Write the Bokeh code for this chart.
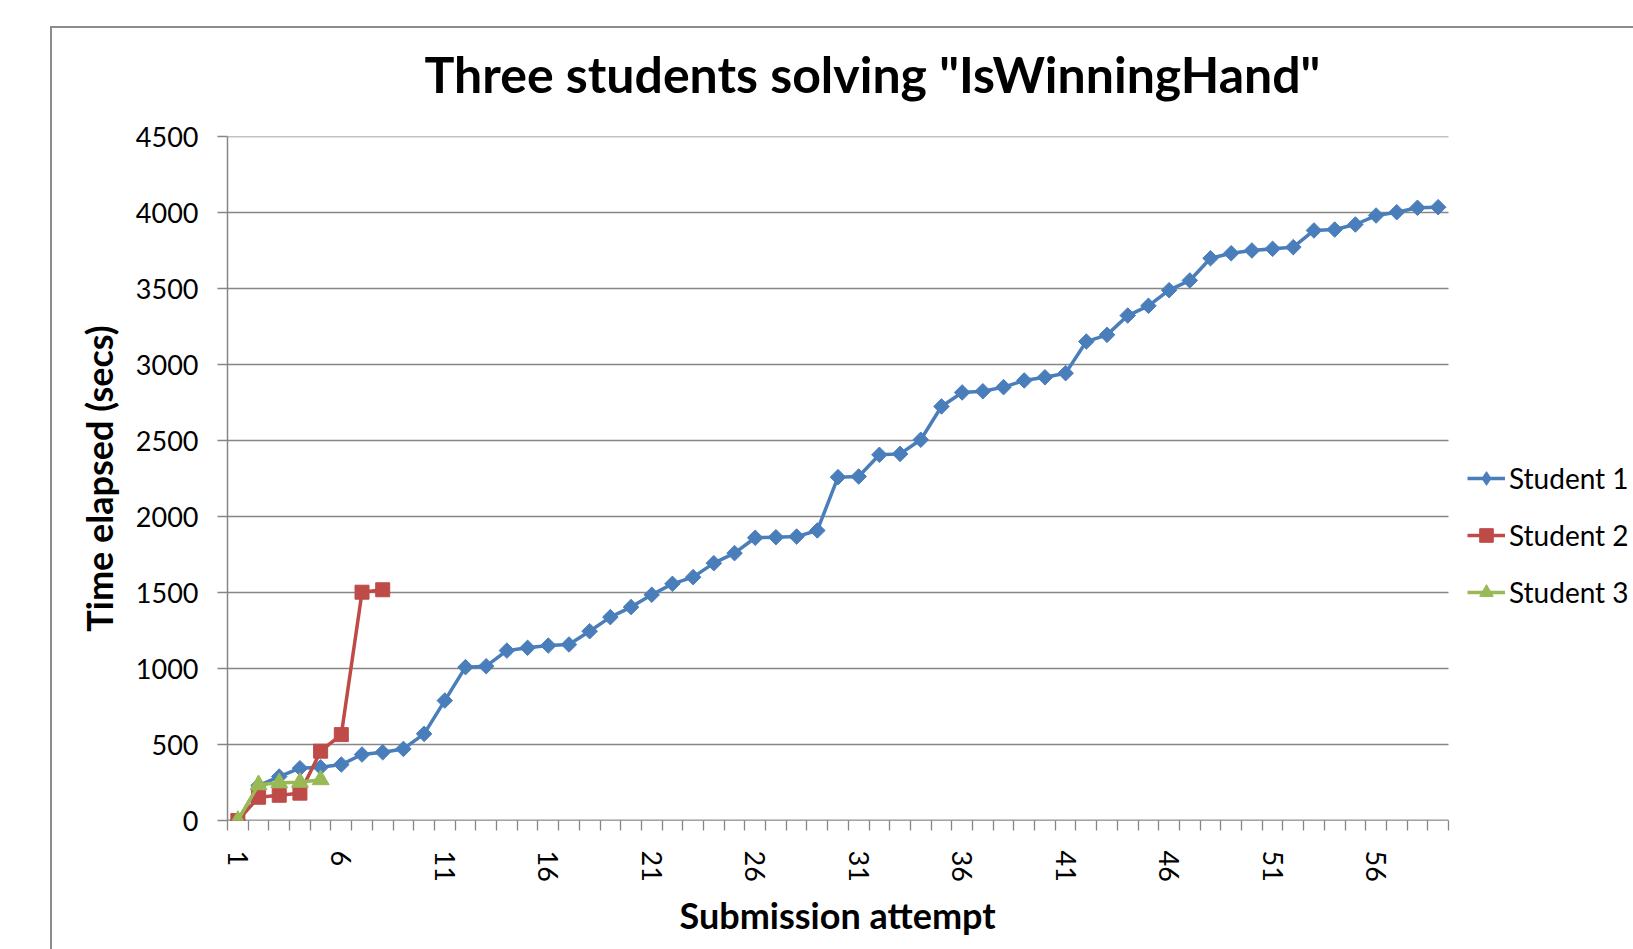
import numpy as np
from bokeh.plotting import figure
from bokeh.models import (Range1d, FixedTicker, Legend, LegendItem, Title,
                          ColumnDataSource)
from bokeh.embed import file_html
from bokeh.resources import INLINE

# ---------------- data ----------------
title_text = 'Three students solving "IsWinningHand"'
x_label = "Submission attempt"
y_label = "Time elapsed (secs)"
series_names = ["Student 1", "Student 2", "Student 3"]

student1 = [0, 230, 289, 344, 350, 368, 434, 449, 471, 570,
            789, 1009, 1015, 1118, 1136, 1151, 1158, 1245, 1338, 1404,
            1485, 1557, 1601, 1693, 1759, 1860, 1864, 1868, 1908, 2259,
            2263, 2406, 2412, 2505, 2724, 2816, 2824, 2851, 2895, 2916,
            2943, 3151, 3195, 3322, 3386, 3489, 3553, 3699, 3732, 3750,
            3761, 3772, 3882, 3888, 3921, 3980, 4002, 4031, 4035]
student2 = [0, 153, 166, 180, 456, 565, 1502, 1518]
student3 = [0, 235, 248, 251, 268]

n_attempts = 59
x_tick_labels = [1, 6, 11, 16, 21, 26, 31, 36, 41, 46, 51, 56]
y_ticks = [0, 500, 1000, 1500, 2000, 2500, 3000, 3500, 4000, 4500]

colors = ["#4A7EBB", "#BE4B48", "#98B954"]
FONT = "Lato"
GRID = "#868686"
BORDER = "#8c8c8c"

# ---------------- layout constants ----------------
W, H = 1633, 949
LEFT, TOP, BOTTOM = 227, 136, 129
PLOT_W = 1221                     # pixel width of the category area
frame_w = W - LEFT
x_lo = 0.5
x_hi_cat = n_attempts + 0.5
x_hi = x_lo + (x_hi_cat - x_lo) * frame_w / PLOT_W   # frame extends into legend area

p = figure(width=W, height=H, output_backend="svg", toolbar_location=None,
           x_range=Range1d(x_lo, x_hi), y_range=Range1d(0, 4500),
           min_border_left=LEFT, min_border_right=0,
           min_border_top=TOP, min_border_bottom=BOTTOM)
p.outline_line_color = None
p.background_fill_color = "white"
p.border_fill_alpha = 0
# outer chart-area border (left and top edges; right/bottom lie beyond the page)
p.styles = {
    "background": (f"linear-gradient({BORDER},{BORDER}) 50px 26px / 2px 1000px no-repeat, "
                   f"linear-gradient({BORDER},{BORDER}) 50px 26px / 2000px 2px no-repeat, "
                   "white")
}

# title
p.title = Title(text=title_text, align="left", offset=197, standoff=65,
                text_font=FONT, text_font_style="bold", text_font_size="50px",
                text_color="black")

# grid lines limited to the category area
p.xgrid.visible = False
p.ygrid.visible = False
p.segment(x0=[x_lo] * len(y_ticks), x1=[x_hi_cat] * len(y_ticks),
          y0=y_ticks, y1=y_ticks, line_color=GRID, line_width=1.4)

# y axis
ya = p.yaxis[0]
ya.ticker = FixedTicker(ticks=y_ticks)
ya.axis_line_color = GRID
ya.axis_line_width = 1.5
ya.major_tick_line_color = GRID
ya.major_tick_line_width = 1.5
ya.major_tick_out = 10
ya.major_tick_in = 0
ya.minor_tick_line_color = None
ya.major_label_text_font = FONT
ya.major_label_text_font_size = "27px"
ya.major_label_text_color = "black"
ya.major_label_standoff = 19
ya.axis_label = y_label
ya.axis_label_text_font = FONT
ya.axis_label_text_font_style = "bold"
ya.axis_label_text_font_size = "36px"
ya.axis_label_text_color = "black"
ya.axis_label_standoff = 12

# x axis (line drawn as a segment over the category area only)
xa = p.xaxis[0]
boundaries = [i + 0.5 for i in range(0, n_attempts + 1)]
xa.ticker = FixedTicker(ticks=x_tick_labels, minor_ticks=boundaries)
xa.axis_line_color = None
xa.major_tick_line_color = None
xa.major_tick_out = 0
xa.major_tick_in = 0
xa.minor_tick_line_color = GRID
xa.minor_tick_line_width = 1.3
xa.minor_tick_out = 10
xa.minor_tick_in = 0
xa.major_label_orientation = -np.pi / 2
xa.major_label_text_font = FONT
xa.major_label_text_font_size = "27px"
xa.major_label_text_color = "black"
xa.major_label_standoff = 20
p.segment(x0=[x_lo], x1=[x_hi_cat], y0=[0], y1=[0], line_color=GRID, line_width=1.6)

# x axis title, centred under the category area
p.add_layout(Title(text=x_label, align="left", offset=452, standoff=12,
                   text_font=FONT, text_font_style="bold", text_font_size="36px",
                   text_color="black"), "below")

# series
items = []
all_series = [student1, student2, student3]
markers = [("square", 11, np.pi / 4), ("square", 14, 0), ("triangle", 17, 0)]
legend_markers = [("diamond", 15), ("square", 12), ("triangle", 14)]
for name, vals, col, (mk, sz, ang), (lmk, lsz) in zip(series_names, all_series, colors,
                                                      markers, legend_markers):
    src = ColumnDataSource(dict(x=list(range(1, len(vals) + 1)), y=vals))
    ln = p.line("x", "y", source=src, line_color=col, line_width=3.5)
    p.scatter("x", "y", source=src, marker=mk, size=sz, angle=ang,
              fill_color=col, line_color=col)
    # legend symbol renderer: sits on the series' first point (covered by the other
    # series' markers at attempt 1)
    first = ColumnDataSource(dict(x=[1], y=vals[:1]))
    lg = p.scatter("x", "y", source=first, marker=lmk, size=lsz,
                   fill_color=col, line_color=col)
    items.append(LegendItem(label=name, renderers=[ln, lg]))

legend = Legend(items=items, location=(1240, 211), orientation="vertical",
                border_line_color=None, background_fill_alpha=0,
                padding=0, margin=0, glyph_width=38, glyph_height=34,
                label_height=34, spacing=23, label_standoff=4,
                label_text_font=FONT, label_text_font_size="28px",
                label_text_color="black")
p.add_layout(legend, "center")

open("out.html", "w").write(file_html(p, INLINE))
